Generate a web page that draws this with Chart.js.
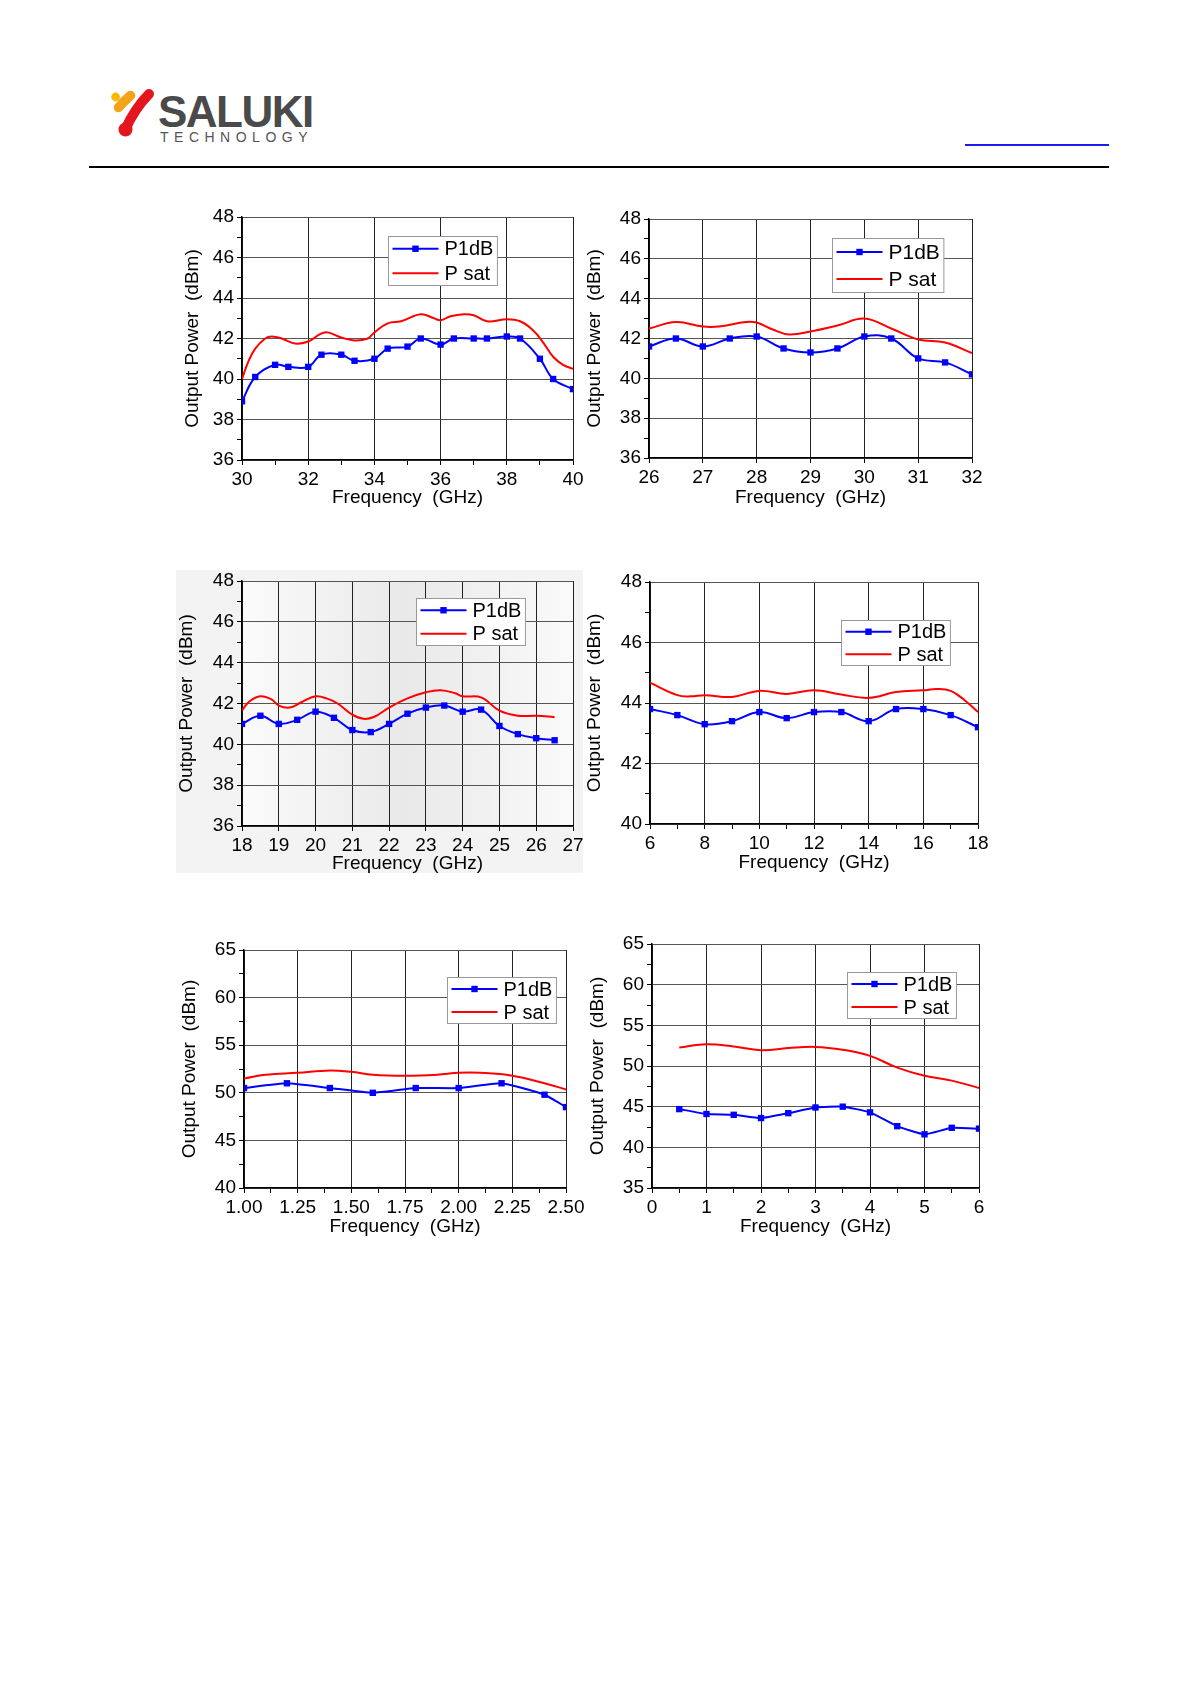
<!DOCTYPE html>
<html>
<head>
<meta charset="utf-8">
<script src="https://cdn.jsdelivr.net/npm/chart.js@4.4.1/dist/chart.umd.min.js"></script>
<style>
  body { margin: 0; background: #fff; width: 1192px; height: 1685px; position: relative; overflow: hidden;
         font-family: "Liberation Sans", Arial, sans-serif; }
  .abs { position: absolute; }
  canvas { position: absolute; }
  .brand { left: 158px; top: 90px; font-size: 44px; line-height: 44px; font-weight: bold; color: #4a4a4a; letter-spacing: -1.5px; }
  .sub { left: 160px; top: 130px; font-size: 14px; line-height: 14px; color: #555; letter-spacing: 5.5px; }
</style>
</head>
<body>

<svg class="abs" style="left:100px;top:82px" width="60" height="64" viewBox="100 82 60 64">
  <circle cx="115.6" cy="97" r="4.4" fill="#f8b800"/>
  <path d="M130.5 95.5 Q124 101 118.5 107.5" stroke="#f5a31a" stroke-width="9.5" fill="none" stroke-linecap="round"/>
  <path d="M149 94 Q142 101 136 110 Q130 119 125.5 129" stroke="#e3161d" stroke-width="10" fill="none" stroke-linecap="round"/>
  <circle cx="125.5" cy="129.5" r="7" fill="#e3161d"/>
</svg>
<div class="abs brand">SALUKI</div>
<div class="abs sub">TECHNOLOGY</div>
<div class="abs" style="left:965px;top:144px;width:144px;height:2px;background:#1a1aee"></div>
<div class="abs" style="left:89px;top:166px;width:1020px;height:2px;background:#000"></div>

<div class="abs" style="left:176px;top:570px;width:407px;height:303px;background:#f3f3f3"></div>

<canvas id="c1" width="440" height="320" style="left:160px;top:200px"></canvas>
<canvas id="c2" width="430" height="320" style="left:570px;top:200px"></canvas>
<canvas id="c3" width="440" height="320" style="left:160px;top:560px"></canvas>
<canvas id="c4" width="430" height="320" style="left:570px;top:560px"></canvas>
<canvas id="c5" width="440" height="320" style="left:160px;top:925px"></canvas>
<canvas id="c6" width="430" height="320" style="left:570px;top:925px"></canvas>

<script>
// 30-40 GHz
const c1P1Freq = [30, 30.4, 31, 31.4, 32, 32.4, 33, 33.4, 34, 34.4, 35, 35.4, 36, 36.4, 37, 37.4, 38, 38.4, 39, 39.4, 40];
const c1P1dB = [38.9, 40.1, 40.7, 40.6, 40.6, 41.2, 41.2, 40.9, 41.0, 41.5, 41.6, 42.0, 41.7, 42.0, 42.0, 42.0, 42.1, 42.0, 41.0, 40.0, 39.5];
const c1SatFreq = [30, 30.2, 30.4, 30.7, 30.9, 31.2, 31.6, 32, 32.5, 33, 33.4, 33.8, 34, 34.4, 34.8, 35.4, 35.8, 36, 36.3, 36.7, 37, 37.4, 38, 38.4, 38.8, 39.1, 39.4, 39.7, 40];
const c1Psat = [40.0, 40.9, 41.5, 42.0, 42.1, 42.0, 41.75, 41.85, 42.3, 42.05, 41.9, 42.0, 42.3, 42.75, 42.85, 43.2, 43.0, 42.9, 43.1, 43.2, 43.15, 42.85, 42.95, 42.85, 42.4, 41.8, 41.1, 40.7, 40.5];

// 26-32 GHz
const c2P1Freq = [26, 26.5, 27, 27.5, 28, 28.5, 29, 29.5, 30, 30.5, 31, 31.5, 32];
const c2P1dB = [41.6, 42.0, 41.6, 42.0, 42.1, 41.5, 41.3, 41.5, 42.1, 42.0, 41.0, 40.8, 40.2];
const c2SatFreq = [26, 26.5, 27, 27.3, 27.8, 28, 28.3, 28.6, 29, 29.5, 30, 30.5, 31, 31.5, 32];
const c2Psat = [42.5, 42.83, 42.6, 42.6, 42.83, 42.8, 42.45, 42.2, 42.35, 42.65, 43.0, 42.5, 41.95, 41.8, 41.27];

// 18-26.5 GHz
const c3P1Freq = [18, 18.5, 19, 19.5, 20, 20.5, 21, 21.5, 22, 22.5, 23, 23.5, 24, 24.5, 25, 25.5, 26, 26.5];
const c3P1dB = [41.0, 41.4, 41.0, 41.2, 41.6, 41.3, 40.7, 40.6, 41.0, 41.5, 41.8, 41.9, 41.6, 41.7, 40.9, 40.5, 40.3, 40.2];
const c3SatFreq = [18, 18.2, 18.5, 18.8, 19, 19.3, 19.6, 20, 20.3, 20.6, 21, 21.3, 21.6, 22, 22.5, 23, 23.4, 23.8, 24, 24.5, 25, 25.5, 26, 26.5];
const c3Psat = [41.67, 42.1, 42.35, 42.2, 41.9, 41.8, 42.05, 42.35, 42.25, 42.0, 41.45, 41.25, 41.35, 41.8, 42.25, 42.55, 42.65, 42.5, 42.35, 42.3, 41.65, 41.4, 41.4, 41.33];

// 6-18 GHz
const c4P1Freq = [6, 7, 8, 9, 10, 11, 12, 13, 14, 15, 16, 17, 18];
const c4P1dB = [43.8, 43.6, 43.3, 43.4, 43.7, 43.5, 43.7, 43.7, 43.4, 43.8, 43.8, 43.6, 43.2];
const c4SatFreq = [6, 7, 7.5, 8, 9, 10, 11, 12, 13, 14, 15, 16, 16.5, 17, 17.5, 18];
const c4Psat = [44.67, 44.26, 44.22, 44.26, 44.2, 44.4, 44.3, 44.42, 44.28, 44.17, 44.36, 44.42, 44.46, 44.4, 44.1, 43.7];

// 1-2.5 GHz
const c5P1Freq = [1.0, 1.2, 1.4, 1.6, 1.8, 2.0, 2.2, 2.4, 2.5];
const c5P1dB = [50.5, 51.0, 50.5, 50.0, 50.5, 50.5, 51.0, 49.8, 48.5];
const c5SatFreq = [1.0, 1.1, 1.25, 1.4, 1.5, 1.6, 1.75, 1.9, 2.0, 2.1, 2.25, 2.4, 2.5];
const c5Psat = [51.5, 51.9, 52.1, 52.34, 52.2, 51.9, 51.8, 51.9, 52.1, 52.1, 51.8, 51.0, 50.35];

// 0.5-6 GHz
const c6P1Freq = [0.5, 1, 1.5, 2, 2.5, 3, 3.5, 4, 4.5, 5, 5.5, 6];
const c6P1dB = [44.7, 44.1, 44.0, 43.6, 44.2, 44.9, 45.0, 44.3, 42.6, 41.6, 42.4, 42.3];
const c6SatFreq = [0.5, 1, 1.5, 2, 2.5, 3, 3.5, 4, 4.5, 5, 5.5, 6];
const c6Psat = [52.27, 52.68, 52.4, 51.94, 52.2, 52.35, 52.0, 51.25, 49.8, 48.8, 48.2, 47.3];

// axis ranges: [min, max, minor step, major step]
const c1X = [30, 40, 1, 2], c1Y = [36, 48, 1, 2];
const c2X = [26, 32, 1, 1], c2Y = [36, 48, 1, 2];
const c3X = [18, 27, 1, 1], c3Y = [36, 48, 1, 2];
const c4X = [6, 18, 1, 2], c4Y = [40, 48, 1, 2];
const c5X = [1, 2.5, 0.125, 0.25], c5Y = [40, 65, 2.5, 5];
const c6X = [0, 6, 0.5, 1], c6Y = [35, 65, 2.5, 5];

const seriesNames = ['P1dB', 'P sat'];
const xTitle = 'Frequency  (GHz)';
const yTitle = 'Output Power  (dBm)';

Chart.defaults.font.family = '"Liberation Sans", Arial, sans-serif';
Chart.defaults.color = '#000';

const zip = (xs, ys) => xs.map((x, i) => ({ x: x, y: ys[i] }));
const isMajor = (v, major) => Math.abs(v / major - Math.round(v / major)) < 1e-6;

function axis(r, fmt, title, size, titlePad, gridColor) {
    return {
        type: 'linear', min: r[0], max: r[1],
        afterFit: s => { if (s.isHorizontal()) s.height = size; else s.width = size; },
        ticks: {
            stepSize: r[2], autoSkip: false, maxRotation: 0, padding: 3,
            font: { size: 19 }, color: '#000',
            callback: v => isMajor(v, r[3]) ? fmt(v) : ''
        },
        grid: {
            color: c => isMajor(c.tick.value, r[3]) ? gridColor : 'rgba(0,0,0,0)',
            tickColor: '#000', tickLength: 5, lineWidth: 1
        },
        border: { color: '#000', width: 1.5 },
        title: { display: true, text: title, font: { size: 19 }, color: '#000', padding: { top: titlePad, bottom: titlePad } }
    };
}

// legend drawn inside the plot area, like the original figures
const boxLegend = {
    id: 'boxLegend',
    afterDraw(chart, args, o) {
        const { ctx, chartArea: a } = chart;
        const x0 = Math.round(a.left + o.x * (a.right - a.left)) + 0.5;
        const y0 = Math.round(a.top + o.y * (a.bottom - a.top)) + 0.5;
        ctx.save();
        ctx.font = o.size + 'px "Liberation Sans", Arial, sans-serif';
        const ds = chart.data.datasets;
        const tw = Math.max(...ds.map(d => ctx.measureText(d.label).width));
        const w = 4 + 46 + 6 + tw + 4, h = o.row * 2;
        ctx.fillStyle = '#fff';
        ctx.fillRect(x0, y0, w, h);
        ctx.strokeStyle = '#999';
        ctx.lineWidth = 1;
        ctx.strokeRect(x0, y0, w, h);
        ds.forEach((d, i) => {
            const cy = y0 + o.row * (i + 0.5);
            ctx.strokeStyle = d.borderColor;
            ctx.lineWidth = d.borderWidth;
            ctx.beginPath();
            ctx.moveTo(x0 + 4, cy);
            ctx.lineTo(x0 + 50, cy);
            ctx.stroke();
            if (d.pointRadius > 0) {
                ctx.fillStyle = d.borderColor;
                ctx.fillRect(x0 + 27 - 3.2, cy - 3.2, 6.4, 6.4);
            }
            ctx.fillStyle = '#000';
            ctx.textBaseline = 'middle';
            ctx.fillText(d.label, x0 + 56, cy + 1);
        });
        ctx.restore();
    }
};

const shadedArea = {
    id: 'shadedArea',
    beforeDraw(chart, args, o) {
        if (!o.on) return;
        const { ctx, chartArea: a } = chart;
        const g = ctx.createLinearGradient(a.left, 0, a.right, 0);
        g.addColorStop(0, '#fbfbfb');
        g.addColorStop(0.5, '#e9e9e9');
        g.addColorStop(1, '#fafafa');
        ctx.save();
        ctx.fillStyle = g;
        ctx.fillRect(a.left, a.top, a.right - a.left, a.bottom - a.top);
        ctx.restore();
    }
};

function makeChart(id, p1x, p1y, sx, sy, xr, yr, o) {
    new Chart(document.getElementById(id), {
        type: 'line',
        data: {
            datasets: [{
                label: seriesNames[0], data: zip(p1x, p1y),
                borderColor: '#0000ff', backgroundColor: '#0000ff', borderWidth: 2,
                pointStyle: 'rect', pointRadius: 4.5, pointBorderWidth: 0, tension: o.p1Tension
            }, {
                label: seriesNames[1], data: zip(sx, sy),
                borderColor: '#ff0000', borderWidth: 2, pointRadius: 0, tension: 0.4
            }]
        },
        options: {
            responsive: false,
            animation: false,
            layout: { padding: { top: o.top, right: o.right, left: 0, bottom: 0 } },
            scales: {
                x: axis(xr, o.xfmt, xTitle, o.xH, o.xTitlePad, '#222'),
                y: axis(yr, v => String(v), yTitle, o.yW, o.yTitlePad, '#555')
            },
            plugins: {
                legend: { display: false },
                tooltip: { enabled: false },
                boxLegend: o.legend,
                shadedArea: { on: !!o.shade }
            }
        },
        plugins: [shadedArea, boxLegend]
    });
}

const intFmt = v => String(v);

makeChart('c1', c1P1Freq, c1P1dB, c1SatFreq, c1Psat, c1X, c1Y,
    { top: 17, right: 27, yW: 82, xH: 60, yTitlePad: 21, xTitlePad: 11, xfmt: intFmt, p1Tension: 0.4,
      legend: { x: 0.441, y: 0.078, size: 20, row: 24.5 } });
makeChart('c2', c2P1Freq, c2P1dB, c2SatFreq, c2Psat, c2X, c2Y,
    { top: 19, right: 28, yW: 79, xH: 62, yTitlePad: 13, xTitlePad: 11, xfmt: intFmt, p1Tension: 0.4,
      legend: { x: 0.567, y: 0.079, size: 21, row: 27 } });
makeChart('c3', c3P1Freq, c3P1dB, c3SatFreq, c3Psat, c3X, c3Y,
    { top: 21, right: 27, yW: 82, xH: 54, yTitlePad: 15, xTitlePad: 5, xfmt: intFmt, p1Tension: 0.4, shade: true,
      legend: { x: 0.526, y: 0.069, size: 20, row: 23.5 } });
makeChart('c4', c4P1Freq, c4P1dB, c4SatFreq, c4Psat, c4X, c4Y,
    { top: 22, right: 22, yW: 80, xH: 56, yTitlePad: 13, xTitlePad: 6, xfmt: intFmt, p1Tension: 0.4,
      legend: { x: 0.582, y: 0.157, size: 20, row: 22.5 } });
makeChart('c5', c5P1Freq, c5P1dB, c5SatFreq, c5Psat, c5X, c5Y,
    { top: 25, right: 34, yW: 84, xH: 57, yTitlePad: 18, xTitlePad: 7, xfmt: v => v.toFixed(2), p1Tension: 0.15,
      legend: { x: 0.63, y: 0.113, size: 20, row: 23 } });
makeChart('c6', c6P1Freq, c6P1dB, c6SatFreq, c6Psat, c6X, c6Y,
    { top: 19, right: 21, yW: 82, xH: 57, yTitlePad: 16, xTitlePad: 7, xfmt: intFmt, p1Tension: 0.15,
      legend: { x: 0.596, y: 0.115, size: 20, row: 23 } });
</script>
</body>
</html>
